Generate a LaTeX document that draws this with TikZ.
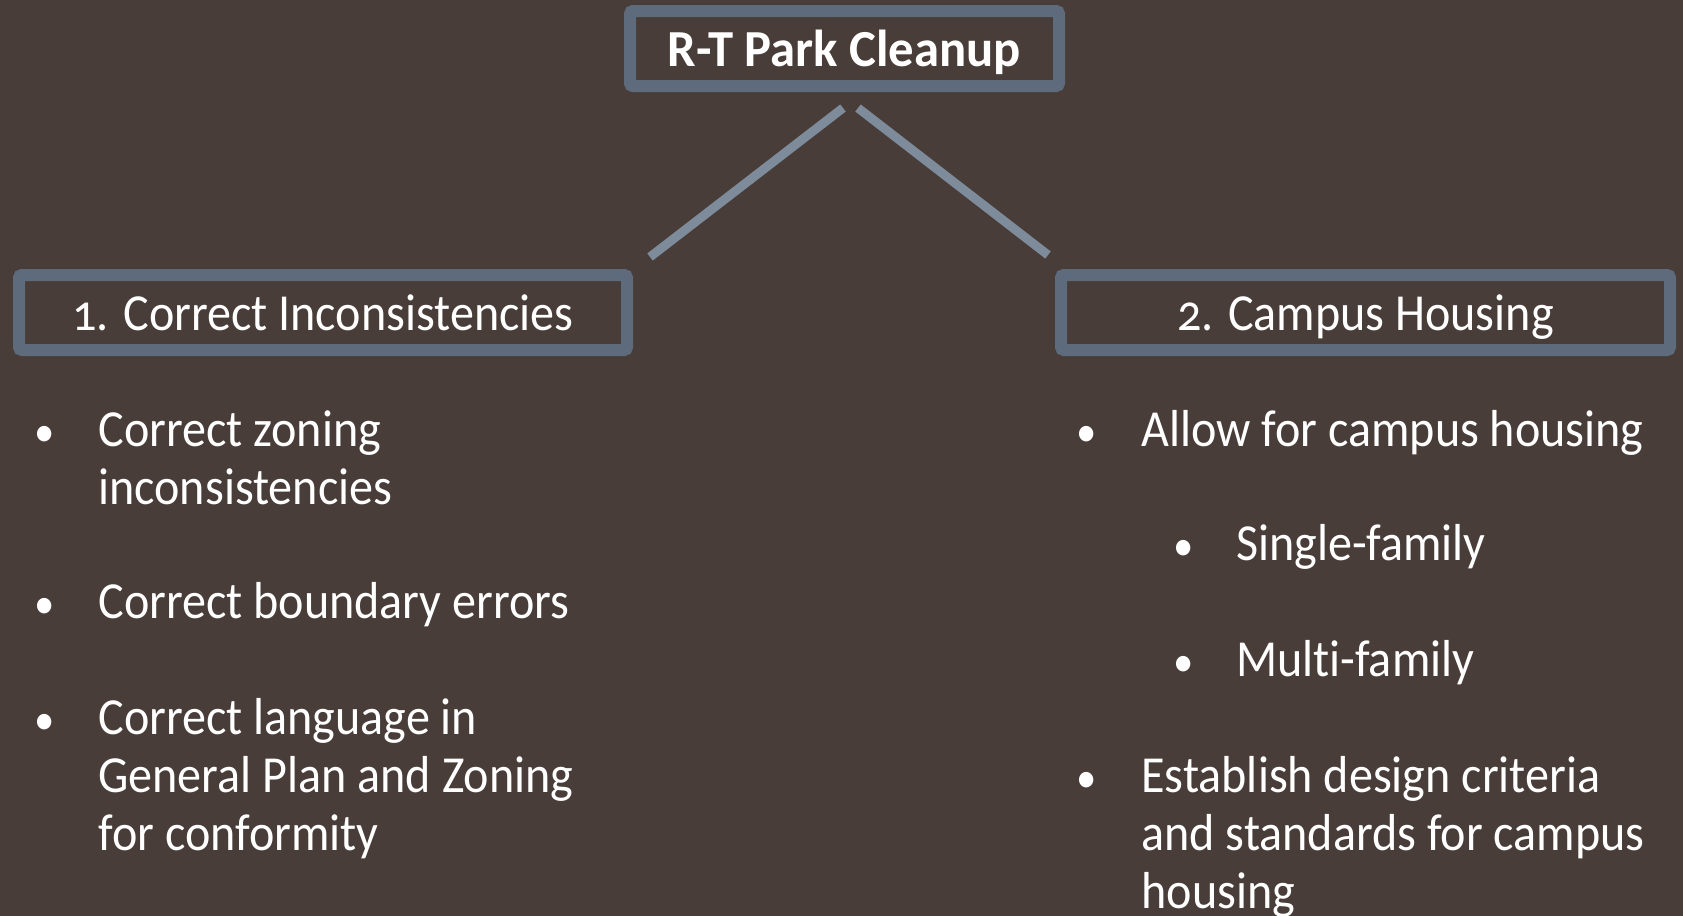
\documentclass[tikz,border=0pt]{standalone}
\usepackage{fontspec}
\setmainfont{Carlito}[Numbers=OldStyle, Ligatures=NoCommon, FakeStretch=0.925, BoldFeatures={FakeStretch=0.975}]
\definecolor{slidebg}{HTML}{483D38}
\definecolor{boxline}{HTML}{5E6B7C}
\definecolor{linkline}{HTML}{7E8B9B}
\newcommand{\itemlines}[1]{\begin{tabular}[t]{@{}l@{}}#1\end{tabular}}
\tikzset{
  headbox/.style={draw=boxline, line width=6pt, rounded corners=1.5pt, minimum width=#1, minimum height=37.5pt, inner sep=0pt, text height=18pt, text depth=0pt, text=white, font=\fontsize{26}{29}\selectfont},
  link/.style={draw=linkline, line width=4.5pt},
  dot/.style={anchor=base, inner sep=0pt, text=white, font=\fontsize{22}{29}\selectfont},
  item/.style={anchor=base west, inner sep=0pt, text=white, font=\fontsize{26}{29}\selectfont}
}
\begin{document}
\begin{tikzpicture}[x=0.5pt, y=-0.5pt]
\useasboundingbox (0,0) rectangle (1683,916);
\fill[slidebg] (0,0) rectangle (1683,916); % background
% boxes
\node[headbox=214.5pt, font=\fontsize{26}{29}\selectfont\bfseries] (root) at (844.5,48.5) {R-T Park Cleanup};
\node[headbox=304pt] (fixbox) at (323,312.5) {1. Correct Inconsistencies};
\node[headbox=304.5pt] (housebox) at (1365.5,312.5) {2. Campus Housing};
% connectors
\coordinate (rootL) at (843,108);
\coordinate (rootR) at (858,108);
\coordinate (fixtop) at (650,257);
\coordinate (housetop) at (1048,255);
\draw[link] (rootL) -- (fixtop); % left branch
\draw[link] (rootR) -- (housetop); % right branch
% left column
\node[dot] (fixdotA) at (45,446.5) {\textbullet};
\node[item] (fixA) at (98,446.5) {\itemlines{Correct zoning\\inconsistencies}};
\node[dot] (fixdotB) at (45,618) {\textbullet};
\node[item] (fixB) at (98,618) {Correct boundary errors};
\node[dot] (fixdotC) at (45,734) {\textbullet};
\node[item] (fixC) at (98,734) {\itemlines{Correct language in\\General Plan and Zoning\\for conformity}};
% right column
\node[dot] (housedotA) at (1087,446.5) {\textbullet};
\node[item] (houseA) at (1141,446.5) {Allow for campus housing};
\node[dot] (housedotB) at (1184,560) {\textbullet};
\node[item] (houseB) at (1236,560) {Single-family};
\node[dot] (housedotC) at (1184,676) {\textbullet};
\node[item] (houseC) at (1236,676) {Mult\kern0pt i-family};
\node[dot] (housedotD) at (1087,792) {\textbullet};
\node[item] (houseD) at (1141,792) {\itemlines{Establish design criteria\\and standards for campus\\housing}};
\end{tikzpicture}
\end{document}
